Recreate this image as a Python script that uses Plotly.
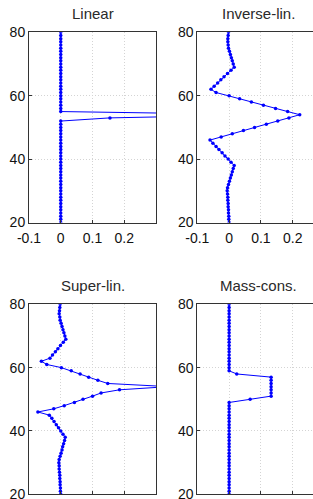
import plotly.graph_objects as go

levels = [20, 21, 22, 23, 24, 25, 26, 27, 28, 29, 30, 31, 32, 33, 34, 35, 36, 37, 38, 39,
          40, 41, 42, 43, 44, 45, 46, 47, 48, 49, 50, 51, 52, 53, 54, 55, 56, 57, 58, 59,
          60, 61, 62, 63, 64, 65, 66, 67, 68, 69, 70, 71, 72, 73, 74, 75, 76, 77, 78, 79, 80]

linear = [0, 0, 0, 0, 0, 0, 0, 0, 0, 0, 0, 0, 0, 0, 0, 0, 0, 0, 0, 0,
          0, 0, 0, 0, 0, 0, 0, 0, 0, 0, 0, 0, 0, 0.155, 0.65, 0, 0, 0, 0, 0,
          0, 0, 0, 0, 0, 0, 0, 0, 0, 0, 0, 0, 0, 0, 0, 0, 0, 0, 0, 0, 0]

inverse_lin = [0.000, -0.001, -0.001, -0.002, -0.002, -0.003, -0.003, -0.004, -0.004, -0.005,
               -0.006, -0.005, -0.002, 0.001, 0.004, 0.007, 0.010, 0.013, 0.016, 0.006,
               -0.003, -0.013, -0.022, -0.032, -0.041, -0.051, -0.060, -0.025, 0.010, 0.045,
               0.080, 0.117, 0.153, 0.188, 0.222, 0.184, 0.146, 0.108, 0.070, 0.033,
               0.000, -0.041, -0.057, -0.047, -0.036, -0.026, -0.016, -0.005, 0.006, 0.016,
               0.013, 0.010, 0.007, 0.004, 0.001, -0.002, -0.003, -0.004, -0.004, -0.003, -0.002]

super_lin = [0.000, -0.001, -0.001, -0.002, -0.002, -0.003, -0.003, -0.004, -0.005, -0.005,
             -0.006, -0.005, -0.002, 0.001, 0.004, 0.006, 0.009, 0.012, 0.014, 0.007,
             0.000, -0.007, -0.014, -0.021, -0.028, -0.036, -0.072, -0.022, 0.011, 0.043,
             0.070, 0.100, 0.127, 0.185, 0.340, 0.148, 0.117, 0.088, 0.061, 0.033,
             0.002, -0.044, -0.061, -0.034, -0.026, -0.017, -0.009, -0.001, 0.008, 0.016,
             0.013, 0.010, 0.007, 0.004, 0.001, -0.002, -0.003, -0.005, -0.004, -0.003, -0.002]

mass_cons = [0, 0, 0, 0, 0, 0, 0, 0, 0, 0, 0, 0, 0, 0, 0, 0, 0, 0, 0, 0,
             0, 0, 0, 0, 0, 0, 0, 0, 0, 0, 0.066, 0.132, 0.132, 0.132, 0.132, 0.132, 0.132, 0.132, 0.024, 0,
             0, 0, 0, 0, 0, 0, 0, 0, 0, 0, 0, 0, 0, 0, 0, 0, 0, 0, 0, 0, 0]

titles = ["Linear", "Inverse-lin.", "Super-lin.", "Mass-cons."]
series = [linear, inverse_lin, super_lin, mass_cons]
x_ticks = [-0.1, 0, 0.1, 0.2]
x_ticktext = ["-0.1", "0", "0.1", "0.2"]
y_ticks = [20, 40, 60, 80]

W, H = 313, 499
left_x = (29, 156)
right_x = (197.3, 313)
top_y = (32.3, 222.5)
bot_y = (304.3, 494.3)

panels = [
    (left_x, top_y, [-0.1, 0.3], True, True),
    (right_x, top_y, [-0.1, (313 - 229) / 318.5], False, True),
    (left_x, bot_y, [-0.1, 0.3], True, False),
    (right_x, bot_y, [-0.1, (313 - 229) / 318.5], False, False),
]

fig = go.Figure()
tickfont = dict(family="Liberation Sans, Arial, sans-serif", size=14, color="#111111")
grid = dict(showgrid=True, gridcolor="#d4d4d4", griddash="1px,2px", gridwidth=1)
for i, ((px0, px1), (py0, py1), xr, is_left, top_row) in enumerate(panels):
    n = i + 1
    xa = "x" if n == 1 else f"x{n}"
    ya = "y" if n == 1 else f"y{n}"
    fig.add_trace(go.Scatter(
        x=series[i], y=levels, mode="lines+markers",
        line=dict(color="#0000ff", width=1),
        marker=dict(color="#0000ff", size=3.5),
        xaxis=xa, yaxis=ya, showlegend=False, cliponaxis=True,
    ))
    xkey = "xaxis" if n == 1 else f"xaxis{n}"
    ykey = "yaxis" if n == 1 else f"yaxis{n}"
    fig.update_layout(**{
        xkey: dict(
            domain=[px0 / W, px1 / W], range=xr, anchor=ya,
            tickvals=x_ticks, ticktext=x_ticktext,
            showticklabels=top_row, tickfont=tickfont, ticklabelstandoff=3,
            showline=True, linecolor="#333333", linewidth=1, mirror=True,
            ticks="inside", ticklen=3, tickcolor="#333333",
            zeroline=False, fixedrange=True, automargin=False, **grid,
        ),
        ykey: dict(
            domain=[1 - py1 / H, 1 - py0 / H], range=[20, 80], anchor=xa,
            tickvals=y_ticks, tickfont=tickfont, ticklabeloverflow="allow",
            showline=True, linecolor="#333333", linewidth=1, mirror=is_left,
            ticks="inside", ticklen=3, tickcolor="#333333",
            zeroline=False, fixedrange=True, automargin=False, **grid,
        ),
    })
    cx = (px0 + px1) / 2 if is_left else 258.5
    cy = py0 - 18.5
    fig.add_annotation(
        text=titles[i], x=cx / W, y=1 - cy / H, xref="paper", yref="paper",
        showarrow=False, xanchor="center", yanchor="middle",
        font=dict(family="Liberation Sans, Arial, sans-serif", size=15, color="#2a2a2a"),
    )

fig.update_layout(
    width=W, height=H, margin=dict(l=0, r=0, t=0, b=0),
    paper_bgcolor="white", plot_bgcolor="white",
)
fig.write_html("out.html", config={"displayModeBar": False})
